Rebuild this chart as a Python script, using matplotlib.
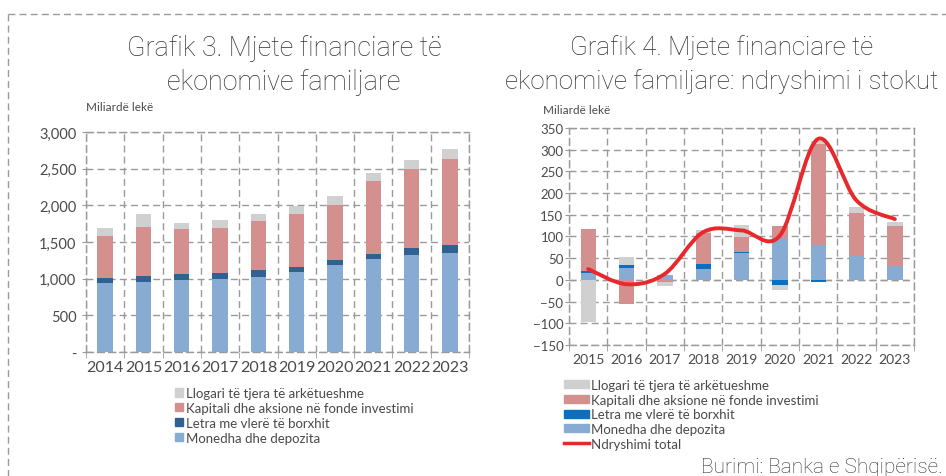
import matplotlib
matplotlib.use('Agg')
import matplotlib.pyplot as plt
import numpy as np
from matplotlib.path import Path
from matplotlib.patches import PathPatch, Patch
from matplotlib.lines import Line2D
from matplotlib.ticker import FixedLocator, FuncFormatter

# Grafik 3: stock (billion lek)
years3 = ['2014', '2015', '2016', '2017', '2018', '2019', '2020', '2021', '2022', '2023']
monedha3 = [935, 958, 985, 999, 1026, 1090, 1186, 1263, 1322, 1354]
letra3 = [73, 77, 77, 82, 87, 73, 73, 78, 92, 110]
kapitali3 = [574, 670, 611, 615, 679, 725, 747, 985, 1080, 1163]
llogari3 = [110, 178, 83, 101, 96, 105, 128, 109, 123, 136]

# Grafik 4: change in stock
years4 = ['2015', '2016', '2017', '2018', '2019', '2020', '2021', '2022', '2023']
monedha4 = [17, 28, 11, 25, 62, 97, 80, 55, 32]
letra4 = [3, 7, 1, 12, 2, -11, -4, 1, 0]
kapitali4 = [98, -55, -5, 71, 36, 28, 234, 97, 93]
llogari4 = [-96, 17, -8, 6, 27, -13, 5, 16, 8]
total4 = [25, -10, 14, 110, 114, 102, 325, 183, 140]

labels = ['Monedha dhe depozita', 'Letra me vlerë të borxhit',
          'Kapitali dhe aksione në fonde investimi', 'Llogari të tjera të arkëtueshme']

c_gray = '#d0d0d0'
c_pink = '#d48f8f'
c_dark = '#2f6193'
c_blue2 = '#0b6fbf'
c_light = '#87abd3'
c_red = '#e8282b'
c_grid = '#9a9a9a'
c_text = '#4a4a4a'
c_title = '#333333'

plt.rcParams['font.family'] = ['Lato', 'DejaVu Sans']
plt.rcParams['font.weight'] = 'normal'

W, H = 946, 477
fig = plt.figure(figsize=(W / 100, H / 100), dpi=100)
dash = (0, (5, 3))


def style_axes(ax, n):
    ax.set_xlim(-0.5, n - 0.5)
    for s in ax.spines.values():
        s.set_linestyle(dash)
        s.set_color(c_grid)
        s.set_linewidth(1)
    ax.xaxis.set_minor_locator(FixedLocator(np.arange(-0.5, n, 1.0)))
    ax.grid(which='minor', axis='x', color=c_grid, linestyle=dash, linewidth=1)
    ax.grid(which='major', axis='y', color=c_grid, linestyle=dash, linewidth=1)
    ax.tick_params(axis='x', which='major', length=0, colors=c_text, pad=6)
    ax.tick_params(axis='x', which='minor', length=4, direction='out', color=c_grid)
    ax.tick_params(axis='y', length=6, direction='inout', color=c_grid, labelcolor=c_text)
    ax.set_axisbelow(True)


# ---- left chart
ax1 = fig.add_axes([86 / W, 1 - 353 / H, 383 / W, 220 / H])
x3 = np.arange(len(years3))
bw = 0.4
bottom = np.zeros(len(years3))
for vals, col in zip([monedha3, letra3, kapitali3, llogari3], [c_light, c_dark, c_pink, c_gray]):
    ax1.bar(x3, vals, bw, bottom=bottom, color=col, zorder=3)
    bottom += np.array(vals)
ax1.set_ylim(0, 3000)
ax1.set_yticks(np.arange(0, 3001, 500))
ax1.yaxis.set_major_formatter(FuncFormatter(lambda v, p: '-' if v == 0 else f'{int(v):,}'))
ax1.set_xticks(x3)
ax1.set_xticklabels(years3)
style_axes(ax1, len(years3))
ax1.tick_params(axis='y', labelsize=10.5, pad=4)
ax1.tick_params(axis='x', which='major', labelsize=11.5)
fig.text(86 / W, 1 - 108 / H, 'Miliardë lekë', fontsize=8.5, color=c_text, va='center', ha='left')

# ---- right chart
ax2 = fig.add_axes([569 / W, 1 - 346 / H, 345 / W, 217 / H])
x4 = np.arange(len(years4))
pos = np.zeros(len(years4))
neg = np.zeros(len(years4))
for vals, col in zip([monedha4, letra4, kapitali4, llogari4], [c_light, c_blue2, c_pink, c_gray]):
    v = np.array(vals, dtype=float)
    b = np.where(v >= 0, pos, neg)
    ax2.bar(x4, v, bw, bottom=b, color=col, zorder=3)
    pos = np.where(v >= 0, pos + v, pos)
    neg = np.where(v < 0, neg + v, neg)

# smoothed total line (Excel-style bezier through the data points)
pts = np.column_stack([x4, total4]).astype(float)
ext = np.vstack([pts[0], pts, pts[-1]])
verts = [tuple(pts[0])]
codes = [Path.MOVETO]
for i in range(len(pts) - 1):
    p0, p1, p2, p3 = ext[i], ext[i + 1], ext[i + 2], ext[i + 3]
    verts += [tuple(p1 + (p2 - p0) / 6), tuple(p2 - (p3 - p1) / 6), tuple(p2)]
    codes += [Path.CURVE4] * 3
ax2.add_patch(PathPatch(Path(verts, codes), facecolor='none', edgecolor=c_red,
                        linewidth=2.8, zorder=4, capstyle='round'))

ax2.set_ylim(-150, 350)
ax2.set_yticks(np.arange(-150, 351, 50))
ax2.set_xticks(x4)
ax2.set_xticklabels(years4)
style_axes(ax2, len(years4))
ax2.axhline(0, color=c_grid, linestyle=dash, linewidth=1, zorder=2)
ax2.tick_params(axis='y', labelsize=9.5, pad=1)
ax2.tick_params(axis='x', which='major', labelsize=10)
fig.text(543 / W, 1 - 111 / H, 'Miliardë lekë', fontsize=8.5, color=c_text, va='center', ha='left')

# ---- titles
tkw = dict(color=c_title, ha='center', va='center',
           family=['Roboto', 'DejaVu Sans'], fontweight='light')
fig.text(284 / W, 1 - 48 / H, 'Grafik 3. Mjete financiare të', fontsize=19.4, **tkw)
fig.text(284 / W, 1 - 82 / H, 'ekonomive familjare', fontsize=19.4, **tkw)
fig.text(722 / W, 1 - 48 / H, 'Grafik 4. Mjete financiare të', fontsize=18.6, **tkw)
fig.text(722 / W, 1 - 82 / H, 'ekonomive familjare: ndryshimi i stokut', fontsize=18.6, **tkw)

# ---- legends
h1 = [Patch(color=c) for c in [c_gray, c_pink, c_dark, c_light]]
l1 = labels[::-1]
fig.legend(h1, l1, loc='upper left', bbox_to_anchor=(175 / W, 1 - 388 / H), frameon=False,
           fontsize=9.5, handlelength=0.6, handleheight=0.6, handletextpad=0.25,
           labelspacing=0.22, borderpad=0, borderaxespad=0, labelcolor=c_text)

h2 = [Patch(color=c) for c in [c_gray, c_pink, c_blue2, c_light]]
h2.append(Line2D([], [], color=c_red, linewidth=2.5))
l2 = labels[::-1] + ['Ndryshimi total']
fig.legend(h2, l2, loc='upper left', bbox_to_anchor=(564 / W, 1 - 380 / H), frameon=False,
           fontsize=9.5, handlelength=1.9, handleheight=0.55, handletextpad=0.15,
           labelspacing=0.2, borderpad=0, borderaxespad=0, labelcolor=c_text)

fig.text(943 / W, 1 - 468 / H, 'Burimi: Banka e Shqipërisë.', fontsize=15, color=c_title,
         ha='right', va='center', family=['Roboto', 'DejaVu Sans'], fontweight='light')

# ---- dashed frame
fig.add_artist(Line2D([8 / W, 1], [1 - 15 / H, 1 - 15 / H], transform=fig.transFigure,
                      color=c_grid, linestyle=dash, linewidth=1))
fig.add_artist(Line2D([8 / W, 8 / W], [1 - 15 / H, 0], transform=fig.transFigure,
                      color=c_grid, linestyle=dash, linewidth=1))

fig.savefig('out.png', dpi=100)
